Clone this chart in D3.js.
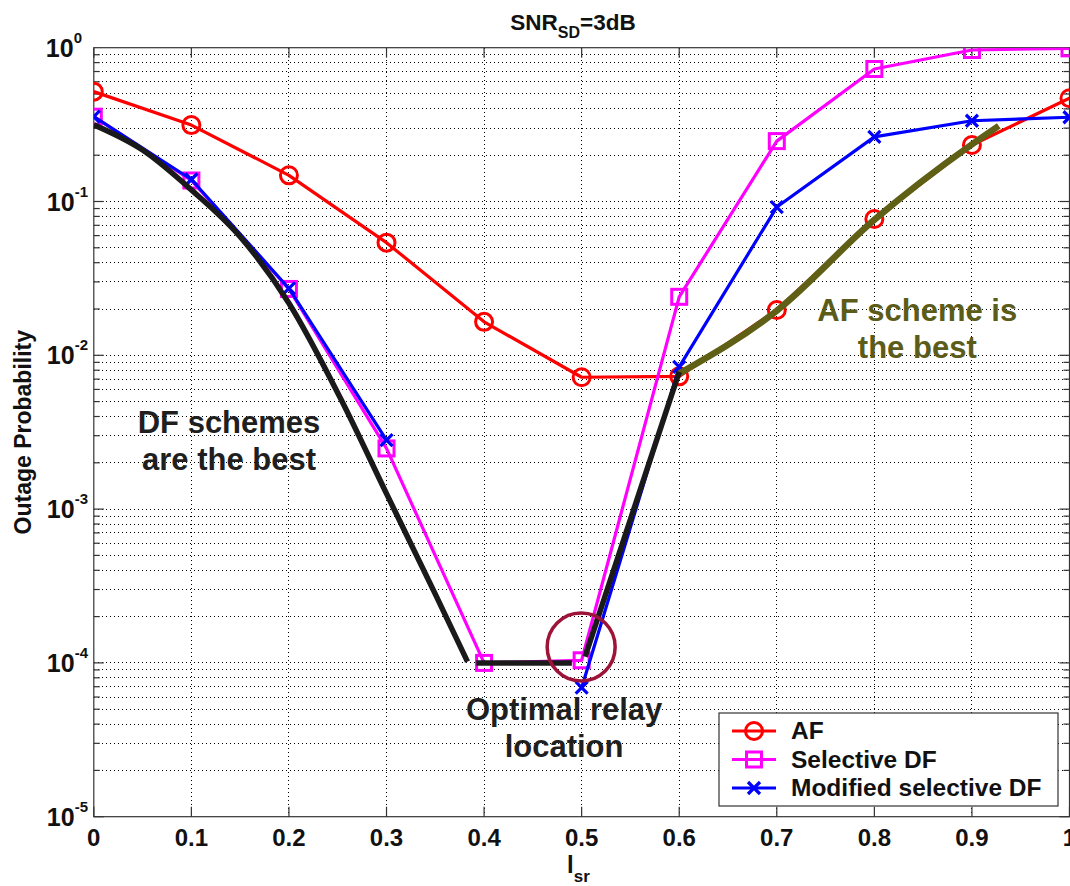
<!doctype html>
<html lang="en">
<head>
<meta charset="UTF-8" />
<title>Outage Probability vs relay location</title>
<style>
  body { margin: 0; background: #fff; }
  svg { display: block; font-family: "Liberation Sans", Arial, sans-serif; font-weight: bold; }
  .grid line { stroke: #000; stroke-width: 1; stroke-dasharray: 1,3; shape-rendering: crispEdges; }
  .frame { fill: none; stroke: #333; stroke-width: 1.2; }
  .tick { stroke: #333; stroke-width: 1.2; }
</style>
</head>
<body>
<div id="chart"></div>
<script src="https://cdn.jsdelivr.net/npm/d3@7"></script>
<script>
// relay position l_sr and the three simulated curves
const lsr = [0, 0.1, 0.2, 0.3, 0.4, 0.5, 0.6, 0.7, 0.8, 0.9, 1.0];
const af = [0.518, 0.314, 0.148, 0.054, 0.0165, 0.0072, 0.0073, 0.0197, 0.077, 0.233, 0.469];
const selectiveDf = [0.356, 0.137, 0.027, 0.00248, 0.0001, 0.000104, 0.024, 0.247, 0.727, 0.966, 0.99];
const modifiedDf = [0.356, 0.139, 0.0272, 0.00281, null, 0.000069, 0.0084, 0.092, 0.263, 0.335, 0.353];

// thick "best scheme" envelope
const bestDfX = [0, 0.05, 0.1, 0.15, 0.2, 0.2537, 0.3, 0.35, 0.383];
const bestDfY = [0.315, 0.216, 0.119, 0.059, 0.0218, 0.00512, 0.00126, 0.00028, 0.000102];
const floorX = [0.392, 0.49];
const floorY = [0.0001, 0.0001];
const riseX = [0.5035, 0.6];
const riseY = [0.00011, 0.0078];
const bestAfX = [0.6, 0.7, 0.8, 0.9, 0.9275];
const bestAfY = [0.0076, 0.0195, 0.076, 0.235, 0.31];

const xTicks = [0, 0.1, 0.2, 0.3, 0.4, 0.5, 0.6, 0.7, 0.8, 0.9, 1];
const xTickLabels = ["0", "0.1", "0.2", "0.3", "0.4", "0.5", "0.6", "0.7", "0.8", "0.9", "1"];
const yExponents = [0, -1, -2, -3, -4, -5];
const legendNames = ["AF", "Selective DF", "Modified selective DF"];
const optimalSpot = { l: 0.4995, p: 0.000127 };

const width = 1070, height = 886;
const margin = { top: 47.7, right: 0.5, bottom: 69.3, left: 93.8 };

const svg = d3.select("#chart").append("svg")
    .attr("width", width)
    .attr("height", height);

const x = d3.scaleLinear().domain([0, 1]).range([margin.left, width - margin.right]);
const y = d3.scaleLog().domain([1e-5, 1]).range([height - margin.bottom, margin.top]);

svg.append("defs").append("clipPath").attr("id", "plot-clip")
    .append("rect")
    .attr("x", x(0)).attr("y", y(1))
    .attr("width", x(1) - x(0)).attr("height", y(1e-5) - y(1));

// grid: vertical at major x ticks, horizontal at every log tick
const grid = svg.append("g").attr("class", "grid");
grid.selectAll(".gx").data(xTicks.slice(1, -1)).enter().append("line")
    .attr("x1", d => x(d)).attr("x2", d => x(d))
    .attr("y1", y(1)).attr("y2", y(1e-5));

const logTicks = [];
yExponents.slice(1).forEach(e => {
    for (let m = 1; m <= 9; m++) logTicks.push({ v: m * Math.pow(10, e), major: m === 1 });
});
const yGridTicks = logTicks.filter(t => t.v > 1e-5 && t.v < 1);
grid.selectAll(".gy").data(yGridTicks).enter().append("line")
    .attr("x1", x(0)).attr("x2", x(1))
    .attr("y1", d => y(d.v)).attr("y2", d => y(d.v));

// tick marks pointing inwards on all four sides
const ticks = svg.append("g");
xTicks.forEach(t => {
    ticks.append("line").attr("class", "tick")
        .attr("x1", x(t)).attr("x2", x(t)).attr("y1", y(1e-5)).attr("y2", y(1e-5) - 10);
    ticks.append("line").attr("class", "tick")
        .attr("x1", x(t)).attr("x2", x(t)).attr("y1", y(1)).attr("y2", y(1) + 10);
});
logTicks.forEach(t => {
    const len = t.major ? 10 : 6;
    ticks.append("line").attr("class", "tick")
        .attr("x1", x(0)).attr("x2", x(0) + len).attr("y1", y(t.v)).attr("y2", y(t.v));
    ticks.append("line").attr("class", "tick")
        .attr("x1", x(1)).attr("x2", x(1) - len).attr("y1", y(t.v)).attr("y2", y(t.v));
});

svg.append("rect").attr("class", "frame")
    .attr("x", x(0)).attr("y", y(1))
    .attr("width", x(1) - x(0)).attr("height", y(1e-5) - y(1));

// tick labels
svg.append("g").selectAll("text").data(xTicks).enter().append("text")
    .attr("x", d => x(d))
    .attr("y", y(1e-5) + 29)
    .attr("text-anchor", "middle")
    .attr("font-size", 24)
    .attr("fill", "#111")
    .text((d, i) => xTickLabels[i]);

const yLabels = svg.append("g").selectAll("text").data(yExponents).enter().append("text")
    .attr("x", d => d === 0 ? 82 : 88)
    .attr("y", d => y(Math.pow(10, d)) + 9)
    .attr("text-anchor", "end")
    .attr("fill", "#111");
yLabels.append("tspan").attr("font-size", 25).text("10");
yLabels.append("tspan").attr("font-size", 15).attr("dy", -14).text(d => String(d));

// title and axis labels
const title = svg.append("text")
    .attr("x", 573).attr("y", 30)
    .attr("text-anchor", "middle")
    .attr("font-size", 22.5)
    .attr("fill", "#111");
title.append("tspan").text("SNR");
title.append("tspan").attr("font-size", 16).attr("dy", 8).text("SD");
title.append("tspan").attr("dy", -8).text("=3dB");

svg.append("text")
    .attr("transform", `translate(31, ${(y(1) + y(1e-5)) / 2}) rotate(-90)`)
    .attr("text-anchor", "middle")
    .attr("font-size", 23)
    .attr("fill", "#111")
    .text("Outage Probability");

const xLabel = svg.append("text")
    .attr("x", 567).attr("y", 873)
    .attr("font-size", 24)
    .attr("fill", "#111");
xLabel.append("tspan").text("l");
xLabel.append("tspan").attr("font-size", 17).attr("dy", 9).text("sr");

// data series
const plot = svg.append("g").attr("clip-path", "url(#plot-clip)");
const seriesLine = d3.line()
    .defined(d => d.p != null)
    .x(d => x(d.l))
    .y(d => y(d.p));
const smoothLine = d3.line()
    .x(d => x(d.l))
    .y(d => y(d.p))
    .curve(d3.curveMonotoneX);

const zip = (xs, ys) => xs.map((v, i) => ({ l: v, p: ys[i] }));

const series = [
    { name: legendNames[0], values: af, color: "#ff0000", marker: "circle" },
    { name: legendNames[1], values: selectiveDf, color: "#ff00ff", marker: "square" },
    { name: legendNames[2], values: modifiedDf, color: "#0000ff", marker: "cross" }
];

const drawMarker = (g, type, color) => {
    if (type === "circle") {
        g.append("circle").attr("r", 8.5).attr("fill", "none")
            .attr("stroke", color).attr("stroke-width", 3);
    } else if (type === "square") {
        g.append("rect").attr("x", -7.5).attr("y", -7.5).attr("width", 15).attr("height", 15)
            .attr("fill", "none").attr("stroke", color).attr("stroke-width", 3);
    } else {
        g.append("path").attr("d", "M-6,-6L6,6M-6,6L6,-6")
            .attr("stroke", color).attr("stroke-width", 3.2);
    }
};

series.forEach(s => {
    const pts = zip(lsr, s.values);
    plot.append("path")
        .datum(pts)
        .attr("d", seriesLine)
        .attr("fill", "none")
        .attr("stroke", s.color)
        .attr("stroke-width", 3.2)
        .attr("stroke-linejoin", "round");
    pts.filter(d => d.p != null).forEach(d => {
        const g = plot.append("g").attr("transform", `translate(${x(d.l)},${y(d.p)})`);
        drawMarker(g, s.marker, s.color);
    });
});

// best-scheme envelope
plot.append("path").datum(zip(bestAfX, bestAfY))
    .attr("d", smoothLine)
    .attr("fill", "none").attr("stroke", "#5f5f16").attr("stroke-width", 6.5);

[zip(bestDfX, bestDfY), zip(floorX, floorY), zip(riseX, riseY)].forEach(seg => {
    plot.append("path").datum(seg)
        .attr("d", smoothLine)
        .attr("fill", "none").attr("stroke", "#1a1a1a").attr("stroke-width", 5.5);
});

// annotations
svg.append("circle")
    .attr("cx", x(optimalSpot.l)).attr("cy", y(optimalSpot.p))
    .attr("r", 34)
    .attr("fill", "none")
    .attr("stroke", "#9e1438")
    .attr("stroke-width", 3.5);

const notes = [
    { l: 0.1386, p: Math.pow(10, -2.503), lines: ["DF schemes", "are the best"], color: "#1f1f1f" },
    { l: 0.482, p: Math.pow(10, -4.371), lines: ["Optimal relay", "location"], color: "#1f1f1f" },
    { l: 0.844, p: Math.pow(10, -1.775), lines: ["AF scheme is", "the best"], color: "#5c5c1a" }
];
notes.forEach(n => {
    n.lines.forEach((t, i) => {
        svg.append("text")
            .attr("x", x(n.l))
            .attr("y", y(n.p) + i * 37)
            .attr("text-anchor", "middle")
            .attr("font-size", 31)
            .attr("fill", n.color)
            .text(t);
    });
});

// legend
const legend = svg.append("g").attr("transform", "translate(719,713)");
legend.append("rect")
    .attr("width", 339).attr("height", 93)
    .attr("fill", "#fff").attr("stroke", "#333").attr("stroke-width", 1.2);
series.forEach((s, i) => {
    const row = legend.append("g").attr("transform", `translate(0, ${18 + i * 28.5})`);
    row.append("line").attr("x1", 13).attr("x2", 57)
        .attr("stroke", s.color).attr("stroke-width", 3.2);
    drawMarker(row.append("g").attr("transform", "translate(35,0)"), s.marker, s.color);
    row.append("text")
        .attr("x", 72).attr("y", 8)
        .attr("font-size", 24.5)
        .attr("fill", "#111")
        .text(s.name);
});
</script>
</body>
</html>
